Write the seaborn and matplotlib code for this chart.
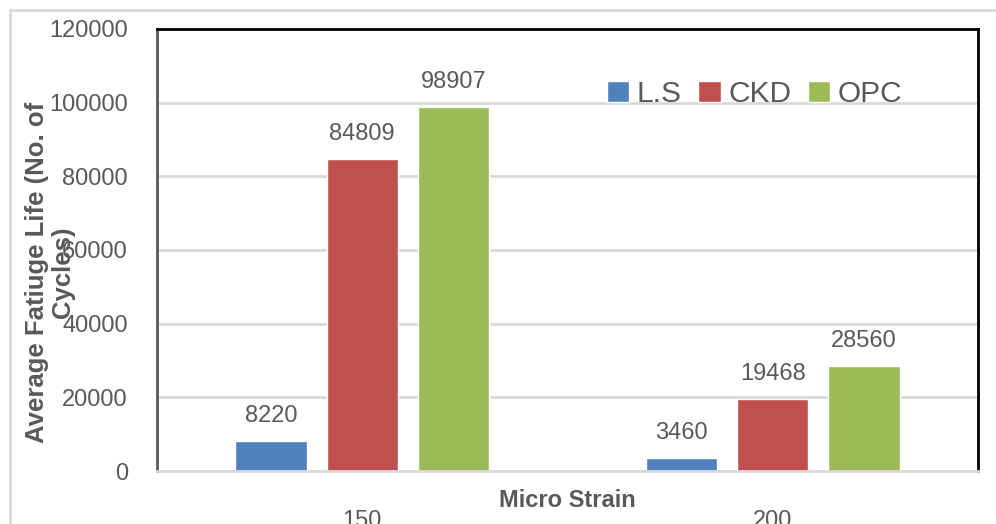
import pandas as pd
import numpy as np
import matplotlib
matplotlib.use("Agg")
import matplotlib.pyplot as plt
import matplotlib.patches as patches
import seaborn as sns

# chart data
strains = ["150", "200"]
mixes = ["L.S", "CKD", "OPC"]
ls_cycles = [8220, 3460]
ckd_cycles = [84809, 19468]
opc_cycles = [98907, 28560]
y_ticks = [0, 20000, 40000, 60000, 80000, 100000, 120000]

colors = ["#4F81BD", "#C0504D", "#9BBB59"]
text_col = "#595959"
grid_col = "#D9D9D9"

rows = []
for mix, vals in zip(mixes, [ls_cycles, ckd_cycles, opc_cycles]):
    for s, v in zip(strains, vals):
        rows.append({"strain": s, "mix": mix, "cycles": v})
df = pd.DataFrame(rows)

sns.set_style("white")
plt.rcParams["font.family"] = ["Liberation Sans", "DejaVu Sans"]

fig = plt.figure(figsize=(9.96, 5.24), dpi=100)
ax = fig.add_axes([157 / 996, 53 / 524, 821 / 996, 442 / 524])

sns.barplot(data=df, x="strain", y="cycles", hue="mix", order=strains, hue_order=mixes,
            palette=colors, width=0.667, gap=0.22, ax=ax, saturation=1, errorbar=None)

# value labels on top of the bars
for cont in ax.containers:
    ax.bar_label(cont, fmt="%d", padding=10, fontsize=17, color=text_col)

ax.set_xlim(-0.5, 1.5)
ax.set_ylim(0, 120000)
ax.set_yticks(y_ticks)
ax.set_yticklabels([str(t) for t in y_ticks])
ax.yaxis.grid(True, color=grid_col, linewidth=2)
ax.set_axisbelow(True)
ax.tick_params(axis="y", length=0, pad=21, labelsize=17, labelcolor=text_col)
ax.tick_params(axis="x", length=0, pad=28, labelsize=17, labelcolor=text_col)

for side in ["top", "right"]:
    ax.spines[side].set_visible(True)
    ax.spines[side].set_color("#000000")
    ax.spines[side].set_linewidth(2)
ax.spines["left"].set_color(text_col)
ax.spines["left"].set_linewidth(2)
ax.spines["bottom"].set_color(grid_col)
ax.spines["bottom"].set_linewidth(2)

ax.set_xlabel("Micro Strain", fontsize=17, fontweight="bold", color=text_col)
ax.xaxis.set_label_coords(0.5, -0.04)
ax.set_ylabel("")
fig.text(50 / 996, 0.48, "Average Fatiuge Life (No. of\nCycles)", rotation=90,
         ha="center", va="center", fontsize=18.5, fontweight="bold", color=text_col,
         multialignment="center", linespacing=1.1)

leg = ax.legend(loc="center", bbox_to_anchor=(0.728, 0.853), ncol=3, frameon=False,
                fontsize=21.5, handlelength=0.75, handleheight=0.75, handletextpad=0.25,
                columnspacing=0.55, borderpad=0)
for t in leg.get_texts():
    t.set_color(text_col)

# chart area border
fig.patches.append(patches.Rectangle((10 / 996, -0.1), 1.2, (514 / 524) + 0.1,
                                     transform=fig.transFigure, fill=False,
                                     edgecolor=grid_col, linewidth=2))

fig.savefig("out.png", dpi=100)
